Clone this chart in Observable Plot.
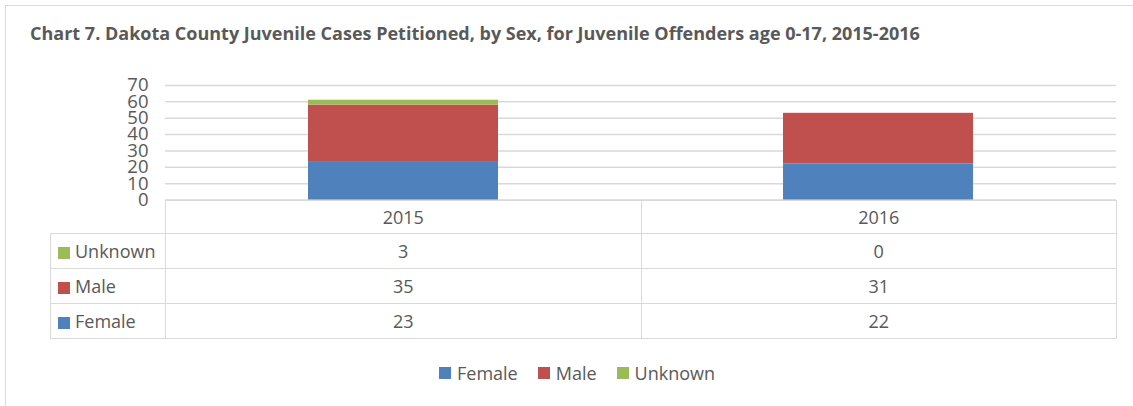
<!DOCTYPE html>
<html>
<head>
<meta charset="utf-8">
<script src="https://cdn.jsdelivr.net/npm/d3@7"></script>
<script src="https://cdn.jsdelivr.net/npm/@observablehq/plot@0.6"></script>
<style>
  html, body { margin: 0; padding: 0; background: #fff; }
  body { font-family: "Open Sans", sans-serif; color: #595959; }
  #wrap { position: relative; width: 1133px; height: 406px; overflow: hidden; }
  #frame { position: absolute; left: 5px; top: 5px; width: 1200px; height: 500px; border: 1.5px solid #d9d9d9; box-sizing: border-box; }
  #title { position: absolute; left: 30px; top: 24px; font-size: 18px; line-height: 1; font-weight: bold; color: #595959; white-space: nowrap; }
  #chart { position: absolute; left: 0; top: 0; }
  #table { position: absolute; left: 50px; top: 199.5px; border-collapse: collapse; table-layout: fixed; }
  #table td { border: 1.5px solid #d9d9d9; padding: 0; font-size: 18px; text-align: center; color: #595959; line-height: 1; }
  #table td.lab { text-align: left; padding-left: 7px; white-space: nowrap; }
  #table td.blank { border-top: none; border-left: none; }
  .sw { display: inline-block; width: 12px; height: 12px; margin-right: 5px; vertical-align: -1px; }
  #legend { position: absolute; left: 439px; top: 362px; height: 22px; display: flex; align-items: center; font-size: 18px; color: #595959; white-space: nowrap; }
  #legend .item { display: flex; align-items: center; margin-right: 20px; }
  #legend .sw { margin-right: 6px; vertical-align: 0; }
</style>
</head>
<body>
<div id="wrap">
  <div id="frame"></div>
  <div id="title"></div>
  <div id="chart"></div>
  <table id="table"></table>
  <div id="legend"></div>
</div>
<script>
const titleText = "Chart 7. Dakota County Juvenile Cases Petitioned, by Sex, for Juvenile Offenders age 0-17, 2015-2016";
const categories = ["2015", "2016"];
const series = ["Female", "Male", "Unknown"];
const female = [23, 22];
const male = [35, 31];
const unknown = [3, 0];
const colors = ["#4F81BD", "#C0504D", "#9BBB59"];
const yTicks = [0, 10, 20, 30, 40, 50, 60, 70];

const valuesBySeries = { Female: female, Male: male, Unknown: unknown };
const data = [];
categories.forEach((c, i) => {
  series.forEach(s => data.push({ year: c, sex: s, value: valuesBySeries[s][i] }));
});

document.getElementById("title").textContent = titleText;

const chart = Plot.plot({
  width: 1133,
  height: 206,
  marginLeft: 165,
  marginRight: 17,
  marginTop: 85,
  marginBottom: 6.5,
  style: { fontFamily: "Open Sans", color: "#595959", background: "transparent", overflow: "visible" },
  x: { domain: categories, paddingInner: 0.6, paddingOuter: 0.3, axis: null },
  y: { domain: [0, 70], label: null },
  color: { domain: series, range: colors },
  marks: [
    Plot.gridY(yTicks, { stroke: "#d9d9d9", strokeOpacity: 1, strokeWidth: 1.5 }),
    Plot.barY(data, { x: "year", y: "value", fill: "sex", order: series }),
    Plot.axisY(yTicks, { tickSize: 0, tickPadding: 17, fontSize: 18.5, fill: "#595959", label: null })
  ]
});
document.getElementById("chart").appendChild(chart);

// data table
const table = document.getElementById("table");
const colgroup = document.createElement("colgroup");
[115, 475.5, 475.5].forEach(w => {
  const col = document.createElement("col");
  col.style.width = w + "px";
  colgroup.appendChild(col);
});
table.appendChild(colgroup);
const head = document.createElement("tr");
head.style.height = "33px";
const blank = document.createElement("td");
blank.className = "blank";
head.appendChild(blank);
categories.forEach(c => {
  const td = document.createElement("td");
  td.textContent = c;
  head.appendChild(td);
});
table.appendChild(head);
series.slice().reverse().forEach(s => {
  const tr = document.createElement("tr");
  tr.style.height = "35px";
  const lab = document.createElement("td");
  lab.className = "lab";
  const sw = document.createElement("span");
  sw.className = "sw";
  sw.style.background = colors[series.indexOf(s)];
  lab.appendChild(sw);
  lab.appendChild(document.createTextNode(s));
  tr.appendChild(lab);
  valuesBySeries[s].forEach(v => {
    const td = document.createElement("td");
    td.textContent = v;
    tr.appendChild(td);
  });
  table.appendChild(tr);
});

// legend
const legend = document.getElementById("legend");
series.forEach((s, i) => {
  const item = document.createElement("div");
  item.className = "item";
  const sw = document.createElement("span");
  sw.className = "sw";
  sw.style.background = colors[i];
  item.appendChild(sw);
  item.appendChild(document.createTextNode(s));
  legend.appendChild(item);
});
</script>
</body>
</html>
